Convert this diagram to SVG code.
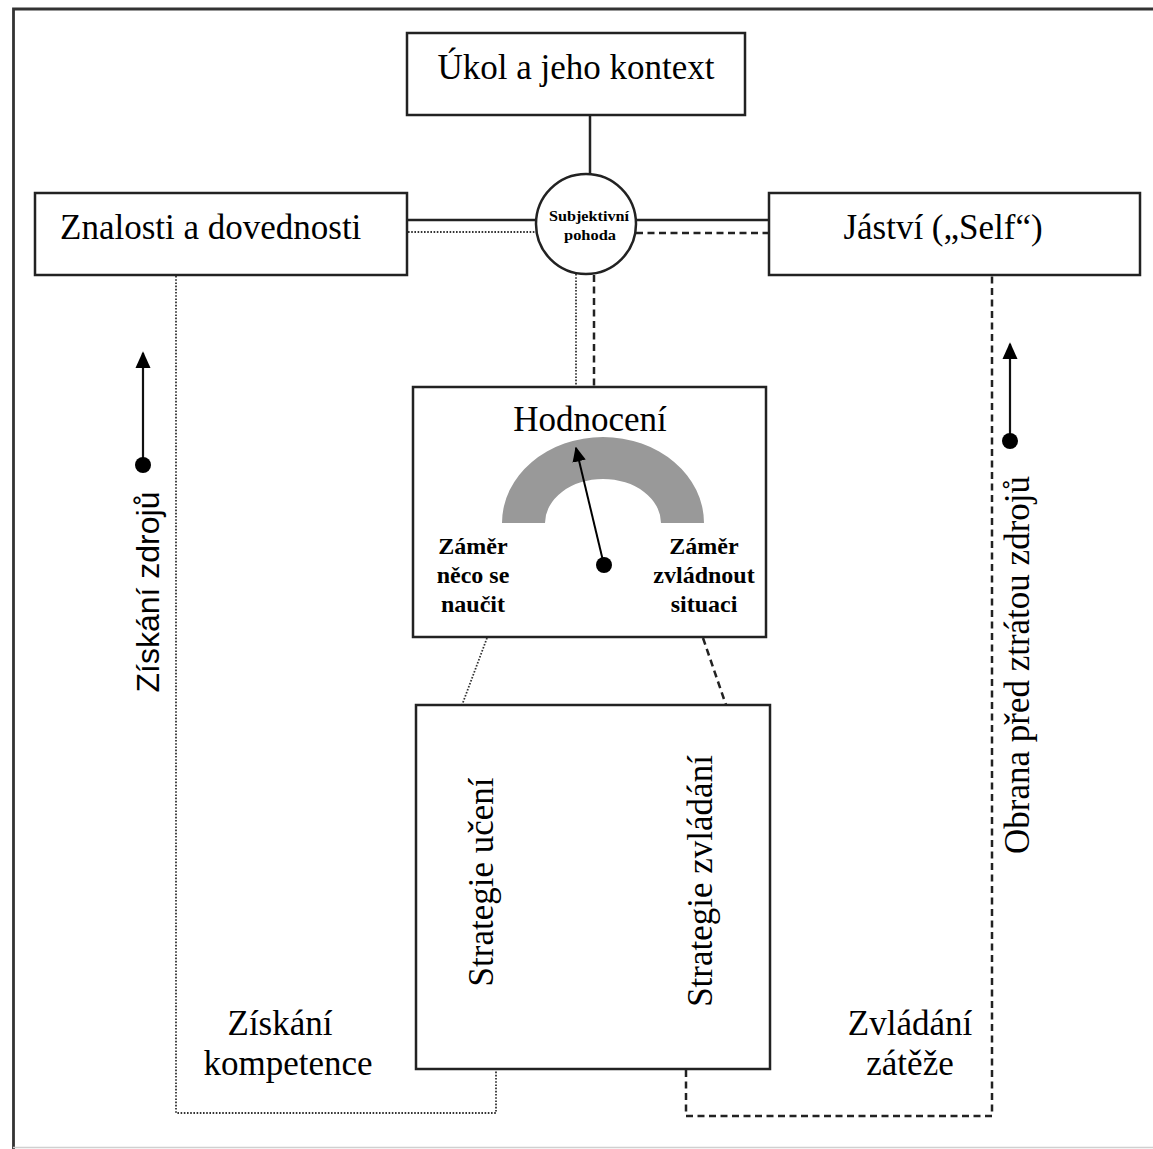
<svg xmlns="http://www.w3.org/2000/svg" width="1153" height="1149" viewBox="0 0 1153 1149">
<defs>
<style>
.box{fill:#fff;stroke:#222;stroke-width:2.5}
.t{font-family:"Liberation Serif","Times New Roman",serif;font-size:35px;fill:#000}
.tb{font-family:"Liberation Serif","Times New Roman",serif;font-size:24px;font-weight:bold;fill:#000}
.ts{font-family:"Liberation Sans",Arial,sans-serif;font-size:32px;fill:#000}
.solid{fill:none;stroke:#222;stroke-width:2.5}
.dot{fill:none;stroke:#333;stroke-width:1.8;stroke-dasharray:1.6 1.6}
.dash{fill:none;stroke:#222;stroke-width:2.5;stroke-dasharray:7 4.5}
.arr{fill:none;stroke:#111;stroke-width:2.2}
</style>
<marker id="ah" viewBox="0 0 10 10" refX="9" refY="5" markerWidth="15" markerHeight="15" markerUnits="userSpaceOnUse" orient="auto">
<path d="M0,0.5 L10,5 L0,9.5 z" fill="#000"/>
</marker>
<marker id="ahb" viewBox="0 0 10 10" refX="9" refY="5" markerWidth="17" markerHeight="17" markerUnits="userSpaceOnUse" orient="auto">
<path d="M0,0.5 L10,5 L0,9.5 z" fill="#000"/>
</marker>
</defs>
<rect width="1153" height="1149" fill="#fff"/>
<path d="M13.5,1149 V9 H1153" fill="none" stroke="#333" stroke-width="2.8"/>
<line x1="13" y1="1147.5" x2="1153" y2="1147.5" stroke="#d0d0d0" stroke-width="1.5"/>

<g id="connectors">
<line class="solid" x1="590" y1="115" x2="590" y2="174"/>
<line class="solid" x1="407" y1="220" x2="537" y2="220"/>
<line class="solid" x1="635" y1="220" x2="769" y2="220"/>
<line class="dot" x1="408" y1="232" x2="536" y2="232"/>
<line class="dash" x1="636" y1="233" x2="768" y2="233"/>
<line class="dot" x1="576" y1="274" x2="576" y2="387"/>
<line class="dash" x1="594" y1="275" x2="594" y2="387"/>
<line class="dot" x1="487" y1="638" x2="462" y2="705"/>
<line class="dash" x1="703" y1="638" x2="726" y2="705"/>
<polyline class="dot" points="176,276 176,1113 496,1113 496,1070"/>
<polyline class="dash" points="686,1070 686,1116 992,1116 992,276"/>
</g>

<g id="node-ukol">
<rect class="box" x="407" y="33" width="338" height="82"/>
<text class="t" x="576" y="79" text-anchor="middle">Úkol a jeho kontext</text>
</g>

<g id="node-znalosti">
<rect class="box" x="35" y="193" width="372" height="82"/>
<text class="t" x="60" y="239">Znalosti a dovednosti</text>
</g>

<g id="node-jastvi">
<rect class="box" x="769" y="193" width="371" height="82"/>
<text class="t" x="943" y="239" text-anchor="middle">Jáství („Self“)</text>
</g>

<g id="node-pohoda">
<circle cx="586" cy="224" r="50" fill="#fff" stroke="#222" stroke-width="2.5"/>
<text x="589" y="221" text-anchor="middle" font-family="Liberation Serif, Times New Roman, serif" font-size="14" font-weight="bold" textLength="80" lengthAdjust="spacingAndGlyphs">Subjektivní</text>
<text x="590" y="240" text-anchor="middle" font-family="Liberation Serif, Times New Roman, serif" font-size="14" font-weight="bold" textLength="52" lengthAdjust="spacingAndGlyphs">pohoda</text>
</g>

<g id="node-hodnoceni">
<rect class="box" x="413" y="387" width="353" height="250"/>
<text class="t" x="590" y="431" text-anchor="middle">Hodnocení</text>
<path d="M502,523 A101,86 0 0 1 704,523 L661,523 A58,44 0 0 0 545,523 Z" fill="#999"/>
<line x1="604" y1="565" x2="576" y2="448" stroke="#000" stroke-width="2" marker-end="url(#ah)"/>
<circle cx="604" cy="565" r="8" fill="#000"/>
<text class="tb" text-anchor="middle"><tspan x="473" y="554">Záměr</tspan><tspan x="473" y="583">něco se</tspan><tspan x="473" y="612">naučit</tspan></text>
<text class="tb" text-anchor="middle"><tspan x="704" y="554">Záměr</tspan><tspan x="704" y="583">zvládnout</tspan><tspan x="704" y="612">situaci</tspan></text>
</g>

<g id="node-strategie">
<rect class="box" x="416" y="705" width="354" height="364"/>
<text class="t" transform="translate(493,882) rotate(-90)" text-anchor="middle">Strategie učení</text>
<text class="t" transform="translate(712,881) rotate(-90)" text-anchor="middle">Strategie zvládání</text>
</g>

<g id="label-ziskani-zdroju">
<line class="arr" x1="143" y1="465" x2="143" y2="353" marker-end="url(#ahb)"/>
<circle cx="143" cy="465" r="8" fill="#000"/>
<text class="ts" transform="translate(159,592) rotate(-90)" text-anchor="middle">Získání zdrojů</text>
</g>

<g id="label-obrana">
<line class="arr" x1="1010" y1="441" x2="1010" y2="344" marker-end="url(#ahb)"/>
<circle cx="1010" cy="441" r="8" fill="#000"/>
<text class="t" transform="translate(1029,665) rotate(-90)" text-anchor="middle" font-size="37">Obrana před ztrátou zdrojů</text>
</g>

<g id="label-kompetence">
<text class="t" text-anchor="middle"><tspan x="280" y="1035">Získání</tspan><tspan x="288" y="1075">kompetence</tspan></text>
</g>

<g id="label-zatez">
<text class="t" text-anchor="middle"><tspan x="910" y="1035">Zvládání</tspan><tspan x="910" y="1075">zátěže</tspan></text>
</g>
</svg>
